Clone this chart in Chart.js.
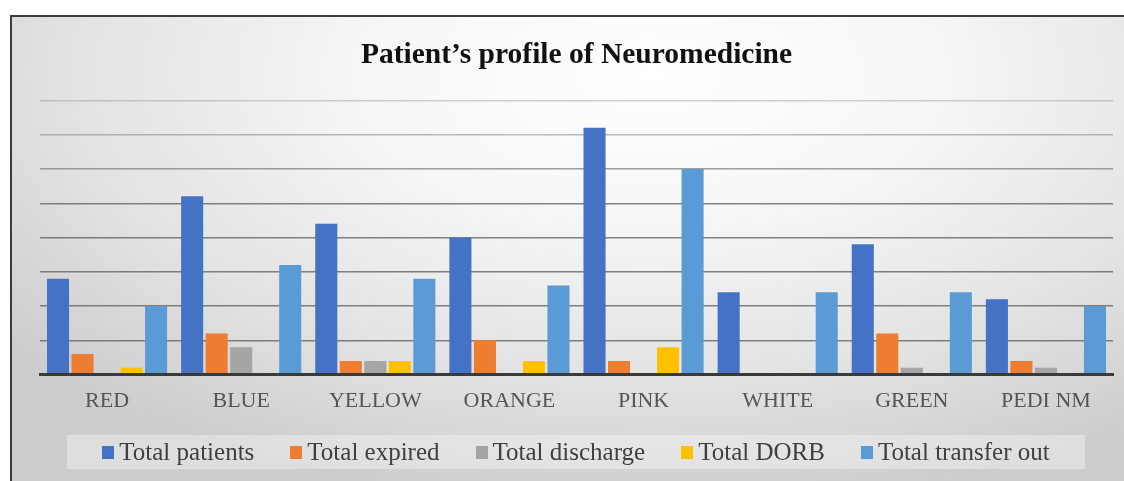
<!DOCTYPE html>
<html>
<head>
<meta charset="utf-8">
<script src="https://cdn.jsdelivr.net/npm/chart.js@4.4.1/dist/chart.umd.min.js"></script>
<style>
  html, body { margin: 0; padding: 0; background: #ffffff; overflow: hidden; }
  #frame {
    position: absolute;
    left: 10px;
    top: 15px;
    width: 1140px;
    height: 480px;
    border-top: 2px solid #3c3c3c;
    border-left: 2px solid #3c3c3c;
    background: radial-gradient(ellipse 72% 90% at 56% 12%, #ffffff 0%, #f6f6f6 35%, #e3e3e3 70%, #cdcdcd 100%);
  }
  #wrap { position: absolute; left: 0; top: 0; width: 1124px; height: 481px; }
  #profileLegend {
    position: absolute;
    left: 67px;
    top: 435px;
    width: 1018px;
    height: 34px;
    background: rgba(255, 255, 255, 0.35);
  }
  #profileLegend ul {
    list-style: none;
    margin: 0;
    padding: 0;
    height: 100%;
    display: flex;
    align-items: center;
    justify-content: center;
    gap: 36px;
    font-family: "Liberation Serif", "Times New Roman", serif;
    font-size: 25px;
    color: #404040;
  }
  #profileLegend li { display: flex; align-items: center; white-space: nowrap; }
  .legend-box { display: inline-block; width: 12px; height: 13px; margin-right: 5px; }
</style>
</head>
<body>
<div id="frame"></div>
<div id="wrap"><canvas id="profileChart" width="1124" height="481"></canvas></div>
<div id="profileLegend"></div>
<script>
const wards = ["RED", "BLUE", "YELLOW", "ORANGE", "PINK", "WHITE", "GREEN", "PEDI NM"];
const totalPatients = [14, 26, 22, 20, 36, 12, 19, 11];
const totalExpired = [3, 6, 2, 5, 2, 0, 6, 2];
const totalDischarge = [0, 4, 2, 0, 0, 0, 1, 1];
const totalDorb = [1, 0, 2, 2, 4, 0, 0, 0];
const totalTransferOut = [10, 16, 14, 13, 30, 12, 12, 10];

const htmlLegendPlugin = {
  id: "htmlLegend",
  afterUpdate(chart, args, options) {
    const legendContainer = document.getElementById(options.containerID);
    if (!legendContainer) return;

    let listContainer = legendContainer.querySelector("ul");
    if (!listContainer) {
      listContainer = document.createElement("ul");
      legendContainer.appendChild(listContainer);
    }
    while (listContainer.firstChild) {
      listContainer.firstChild.remove();
    }

    const items = chart.options.plugins.legend.labels.generateLabels(chart);
    items.forEach((item) => {
      const li = document.createElement("li");
      const box = document.createElement("span");
      box.className = "legend-box";
      box.style.background = item.fillStyle;

      const text = document.createElement("span");
      text.appendChild(document.createTextNode(item.text));

      li.appendChild(box);
      li.appendChild(text);
      listContainer.appendChild(li);
    });
  },
};

function serie(label, data, color) {
  return {
    label,
    data,
    backgroundColor: color,
    borderWidth: 0,
    categoryPercentage: 0.914,
    barPercentage: 0.9,
  };
}

// upper gridlines fade out a little towards the top
function gridColor(ctx) {
  const v = ctx.tick ? ctx.tick.value : 0;
  if (v >= 40) return "rgba(150,150,150,0.45)";
  if (v >= 35) return "rgba(140,140,140,0.6)";
  if (v >= 30) return "rgba(120,120,120,0.7)";
  return "rgba(100,100,100,0.8)";
}

const ctx = document.getElementById("profileChart").getContext("2d");

new Chart(ctx, {
  type: "bar",
  plugins: [htmlLegendPlugin],
  data: {
    labels: wards,
    datasets: [
      serie("Total patients", totalPatients, "#4472c4"),
      serie("Total expired", totalExpired, "#ed7d31"),
      serie("Total discharge", totalDischarge, "#a5a5a5"),
      serie("Total DORB", totalDorb, "#ffc000"),
      serie("Total transfer out", totalTransferOut, "#5b9bd5"),
    ],
  },
  options: {
    responsive: false,
    animation: false,
    layout: {
      padding: { left: 40, right: 11, top: 0, bottom: 54 },
    },
    plugins: {
      htmlLegend: { containerID: "profileLegend" },
      legend: { display: false },
      tooltip: { enabled: false },
      title: {
        display: true,
        text: "Patient’s profile of Neuromedicine",
        color: "#111111",
        font: { family: "'Liberation Serif', 'Times New Roman', serif", size: 29.5, weight: "bold" },
        padding: { top: 38, bottom: 27 },
      },
    },
    scales: {
      x: {
        grid: { display: false, drawTicks: false },
        border: { display: true, color: "#3a3a3a", width: 3, z: 1 },
        ticks: {
          color: "#555555",
          padding: 13,
          font: { family: "'Liberation Serif', 'Times New Roman', serif", size: 22 },
        },
      },
      y: {
        min: 0,
        max: 40,
        ticks: { display: false, stepSize: 5 },
        grid: { color: gridColor, lineWidth: 1.4, drawTicks: false },
        border: { display: false },
      },
    },
  },
});
</script>
</body>
</html>
